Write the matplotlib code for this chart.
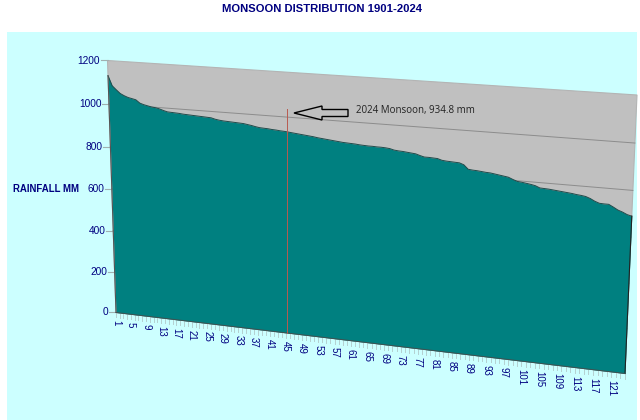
import numpy as np
import matplotlib
matplotlib.use('Agg')
import matplotlib.pyplot as plt
from matplotlib.transforms import Transform

# Dados: monsoon rainfall by rank, highest to lowest (mm)
rainfall = [1130, 1085, 1068, 1052, 1043, 1036, 1032, 1028, 1014, 1008, 1004, 1000, 998, 994, 988,
            983, 982, 981, 980, 978, 977, 976, 975, 974, 973, 972, 971, 966, 963, 961,
            960, 959, 958, 957, 956, 953, 950, 946, 943, 942, 941, 939, 938, 936, 935,
            933, 931, 929, 927, 925, 923, 921, 918, 916, 914, 912, 910, 908, 906, 905,
            904, 903, 901, 900, 899, 899, 898, 898, 897, 895, 890, 888, 887, 885, 883,
            881, 875, 870, 870, 869, 868, 862, 860, 859, 858, 857, 850, 832, 830, 829,
            827, 825, 824, 821, 818, 815, 812, 804, 797, 795, 792, 789, 785, 777, 776,
            775, 773, 771, 769, 767, 765, 762, 760, 757, 750, 740, 733, 732, 732, 722,
            711, 704, 695, 690]
ranks = np.arange(1, len(rainfall) + 1)
y_ticks = [0, 200, 400, 600, 800, 1000, 1200]
x_tick_labels = [1, 5, 9, 13, 17, 21, 25, 29, 33, 37, 41, 45, 49, 53, 57, 61, 65, 69, 73, 77, 81,
                 85, 89, 93, 97, 101, 105, 109, 113, 117, 121]
monsoon_2024_rank = 45
marker_top = 1035

NAVY = '#000080'
TEAL = '#008080'
GREY = '#C0C0C0'
CYAN = '#CCFFFF'


class WallTransform(Transform):
    """Rank / rainfall to picture pixels, through the tilted 3D wall."""
    input_dims = output_dims = 2

    def __init__(self):
        super().__init__()
        src = [(1, 0), (124, 0), (124, 1200), (1, 1200)]
        dst = [(116, 312.5), (625, 373.5), (637, 95), (107.5, 60.5)]
        a = []
        b = []
        for (x, y), (u, v) in zip(src, dst):
            a.append([x, y, 1, 0, 0, 0, -u * x, -u * y])
            a.append([0, 0, 0, x, y, 1, -v * x, -v * y])
            b += [u, v]
        self.h = np.append(np.linalg.solve(np.array(a, float), np.array(b, float)), 1).reshape(3, 3)

    def transform_non_affine(self, values):
        v = np.asarray(values, float)
        p = np.c_[v, np.ones(len(v))] @ self.h.T
        return p[:, :2] / p[:, 2:]


fig = plt.figure(figsize=(6.4, 4.2), dpi=100)
ax = fig.add_axes([0, 0, 1, 1])
ax.set_xlim(0, 640)
ax.set_ylim(420, 0)
ax.axis('off')
to_px = WallTransform()
wall = to_px + ax.transData

# fundo
ax.fill([7, 637, 637, 7], [32, 32, 420, 420], color=CYAN, lw=0, zorder=0)
ax.fill([1, 124, 124, 1], [0, 0, 1200, 1200], color=GREY, ec='#B4B4B4', lw=0.8, transform=wall, zorder=1)

for t in y_ticks[1:-1]:
    ax.plot([1, 124], [t, t], color='#8C8C8C', lw=0.7, transform=wall, zorder=2)

ax.fill_between(ranks, rainfall, 0, color=TEAL, lw=0, transform=wall, zorder=3)
ax.plot(ranks, rainfall, color='#1F4A4A', lw=0.7, transform=wall, zorder=4)
ax.plot([1, 1], [0, rainfall[0]], color='#555555', lw=0.8, transform=wall, zorder=4)
ax.plot([124, 124], [0, rainfall[-1]], color='#222222', lw=0.8, transform=wall, zorder=4)
ax.plot([1, 124], [0, 0], color='#405050', lw=0.7, transform=wall, zorder=4)

# marca de 2024, vertical on screen from the foot of its rank
x_m, y_m = to_px.transform((monsoon_2024_rank, 0))
_, y_t = to_px.transform((monsoon_2024_rank, marker_top))
ax.plot([x_m + 1, x_m + 1], [y_m, y_t], color='#B85A50', lw=0.7, zorder=5)

# eixo y
for t in y_ticks:
    x0, y0 = to_px.transform((1, t))
    ax.plot([x0 - 7, x0], [y0, y0], color='#A0B0B0', lw=0.8, zorder=1)
    ax.text(x0 - 7.5, y0, str(t), ha='right', va='center', fontsize=7.3, color=NAVY, family='Liberation Sans')

# eixo x
for r in ranks:
    x0, y0 = to_px.transform((r, 0))
    ax.plot([x0, x0], [y0, y0 + 5], color='#B4D0D0', lw=0.7, zorder=1)
for r in x_tick_labels:
    x0, y0 = to_px.transform((r, 0))
    ax.text(x0, y0 + 8, str(r), rotation=-90, ha='center', va='top', fontsize=7, color=NAVY,
            family='Liberation Sans')

# textos
ax.text(322, 8.5, 'MONSOON DISTRIBUTION 1901-2024', ha='center', va='center', fontsize=8.1,
        fontweight='bold', color=NAVY, family='Liberation Sans')
ax.text(13, 189, 'RAINFALL MM', ha='left', va='center', fontsize=6.9, fontweight='bold', color=NAVY,
        family='Liberation Sans')
ax.text(356, 110.5, '2024 Monsoon, 934.8 mm', ha='left', va='center', fontsize=7, color='#222222',
        family='Open Sans')

# seta
ax.fill([294, 322, 322, 348, 348, 322, 322], [113, 106, 109.5, 109.5, 116.5, 116.5, 120],
        fc=GREY, ec='black', lw=1, zorder=6)

fig.savefig('out.png', dpi=100)
